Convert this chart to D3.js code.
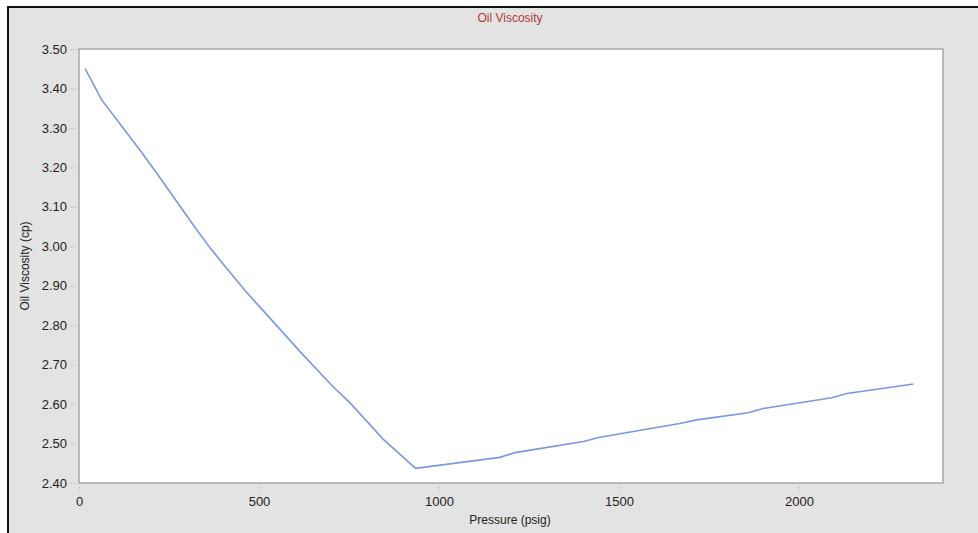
<!DOCTYPE html>
<html>
<head>
<meta charset="utf-8">
<script src="https://cdn.jsdelivr.net/npm/d3@7"></script>
<style>
  html, body { margin: 0; padding: 0; background: #fff; }
  svg { display: block; font-family: "Liberation Sans", Arial, sans-serif; }
</style>
</head>
<body>
<div id="chart"></div>
<script>
// Oil viscosity vs pressure
const pressure = [17, 63, 120, 169, 220, 267, 315, 364, 410, 460, 558, 614, 706, 753, 844, 935,
                  1169, 1211, 1401, 1447, 1669, 1716, 1859, 1901, 2091, 2133, 2318];
const viscosity = [3.450, 3.371, 3.303, 3.244, 3.180, 3.119, 3.057, 2.996, 2.944, 2.889, 2.790, 2.733,
                   2.644, 2.603, 2.512, 2.437,
                   2.465, 2.477, 2.505, 2.516, 2.551, 2.560, 2.578, 2.589, 2.616, 2.627, 2.651];
const xTicks = [0, 500, 1000, 1500, 2000];
const yTicks = [2.4, 2.5, 2.6, 2.7, 2.8, 2.9, 3.0, 3.1, 3.2, 3.3, 3.4, 3.5];

const width = 978;
const height = 533;
const plot = { left: 79, top: 49, right: 943, bottom: 483 };

const svg = d3.select("#chart")
    .append("svg")
    .attr("width", width)
    .attr("height", height);

// gray panel with black frame on top/left
svg.append("rect")
    .attr("x", 8).attr("y", 7)
    .attr("width", width - 8).attr("height", height - 7)
    .attr("fill", "#e3e3e3");
svg.append("line")
    .attr("x1", 8).attr("x2", width).attr("y1", 7).attr("y2", 7)
    .attr("stroke", "#111").attr("stroke-width", 2);
svg.append("line")
    .attr("x1", 8).attr("x2", 8).attr("y1", 6).attr("y2", height)
    .attr("stroke", "#111").attr("stroke-width", 2);

const x = d3.scaleLinear().domain([0, 2400]).range([plot.left, plot.right]);
const y = d3.scaleLinear().domain([2.4, 3.5]).range([plot.bottom, plot.top]);

// plot area
svg.append("rect")
    .attr("x", plot.left).attr("y", plot.top)
    .attr("width", plot.right - plot.left)
    .attr("height", plot.bottom - plot.top)
    .attr("fill", "#fff")
    .attr("stroke", "#a8a8a8")
    .attr("stroke-width", 1.5);

// axes
const xAxis = svg.append("g")
    .attr("transform", `translate(0,${plot.bottom + 1})`)
    .call(d3.axisBottom(x).tickValues(xTicks).tickFormat(d3.format("d")).tickSize(7).tickPadding(6));
const yAxis = svg.append("g")
    .attr("transform", `translate(${plot.left - 1},0)`)
    .call(d3.axisLeft(y).tickValues(yTicks).tickFormat(d3.format(".2f")).tickSize(7).tickPadding(4));

[xAxis, yAxis].forEach(g => {
    g.select(".domain").remove();
    g.selectAll(".tick line")
        .attr("stroke", "#b5b5b5")
        .attr("stroke-dasharray", "1,1");
    g.selectAll(".tick text")
        .attr("fill", "#222")
        .style("font-size", "13px")
        .style("font-family", "Liberation Sans, Arial, sans-serif");
});
xAxis.selectAll(".tick line").attr("y1", 3);
yAxis.selectAll(".tick line").attr("x1", -2);

// line
const points = pressure.map((p, i) => [p, viscosity[i]]);
svg.append("path")
    .datum(points)
    .attr("fill", "none")
    .attr("stroke", "#7a97e2")
    .attr("stroke-width", 1.6)
    .attr("d", d3.line().x(d => x(d[0])).y(d => y(d[1])));

// titles
svg.append("text")
    .attr("x", 510).attr("y", 22)
    .attr("text-anchor", "middle")
    .attr("fill", "#b03a3a")
    .style("font-size", "12px")
    .text("Oil Viscosity");

svg.append("text")
    .attr("x", 510).attr("y", 524)
    .attr("text-anchor", "middle")
    .attr("fill", "#222")
    .style("font-size", "12px")
    .text("Pressure (psig)");

svg.append("text")
    .attr("transform", "translate(29,266) rotate(-90)")
    .attr("text-anchor", "middle")
    .attr("fill", "#222")
    .style("font-size", "12px")
    .text("Oil Viscosity (cp)");
</script>
</body>
</html>
